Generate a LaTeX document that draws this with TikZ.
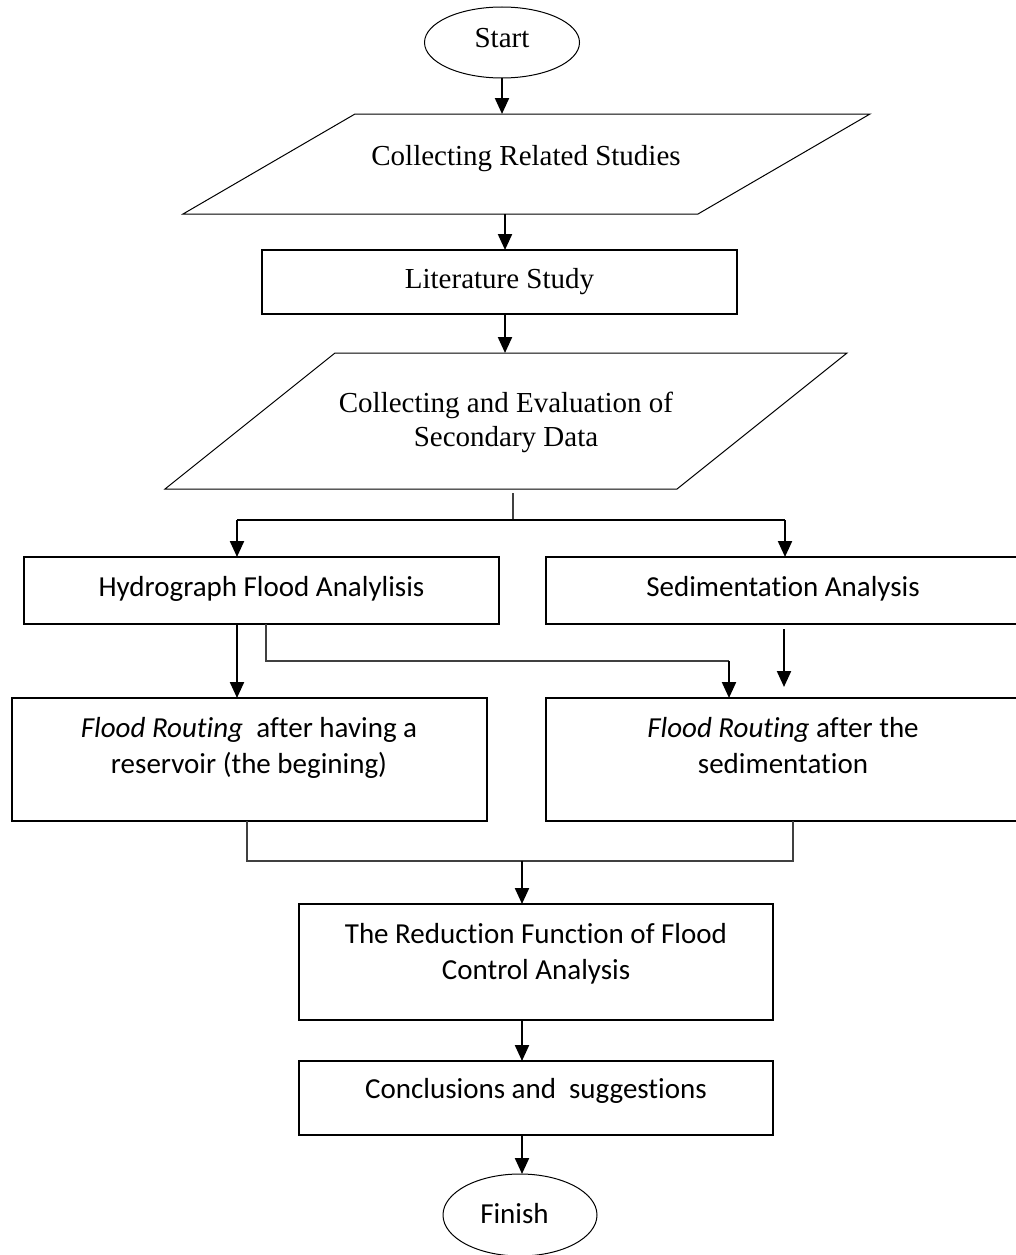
\documentclass[tikz,border=0pt]{standalone}
\usepackage{fontspec}
\usetikzlibrary{arrows.meta,shapes.geometric}
\newfontfamily\timesf{Liberation Serif}
\newfontfamily\calf{Carlito}[Ligatures=CommonOff]
\begin{document}
\begin{tikzpicture}[x=1pt,y=-1pt,
  procbox/.style={draw=black, line width=1.1pt, inner sep=0pt, outer sep=0pt, anchor=north west},
  term/.style={ellipse, draw=black, line width=1.0pt, inner sep=0pt, outer sep=0pt},
  shapeline/.style={draw=black, line width=1.0pt, line join=miter},
  serif/.style={font=\timesf\fontsize{29}{34}\selectfont, anchor=base, inner sep=0pt},
  sans/.style={font=\calf\fontsize{29}{36}\selectfont, anchor=base, inner sep=0pt},
  arr/.style={draw=black, line width=2.2pt, -{Triangle[width=14pt,length=16pt]}},
  link/.style={draw=black!75, line width=1.1pt},
  hline/.style={draw=black, line width=1.3pt}]
\useasboundingbox (0,0) rectangle (1016,1255);

% Start
\node[term, minimum width=155pt, minimum height=71pt] (start) at (502,42.5) {};
\node[serif] (startT) at (502,48) {Start};

% Collecting Related Studies
\coordinate (p1bl) at (183,214);
\coordinate (p1tl) at (355,114);
\coordinate (p1tr) at (870,114);
\coordinate (p1br) at (698,214);
\draw[shapeline] (p1bl) -- (p1tl) -- (p1tr) -- (p1br) -- cycle;
\node[serif] (p1T) at (526,165) {Collecting Related Studies};
\coordinate (p1n) at (502,114);
\coordinate (p1s) at (505,214);

% Literature Study
\node[procbox, minimum width=475pt, minimum height=64pt] (lit) at (262,250) {};
\node[serif] (litT) at (499.5,288) {Literature Study};

% Collecting and Evaluation
\coordinate (p2bl) at (165,489);
\coordinate (p2tl) at (335,353);
\coordinate (p2tr) at (847,353);
\coordinate (p2br) at (677,489);
\draw[shapeline] (p2bl) -- (p2tl) -- (p2tr) -- (p2br) -- cycle;
\node[serif, text width=480pt, align=flush center] (p2T) at (506,412) {Collecting and Evaluation of\\Secondary Data};
\coordinate (p2n) at (505,353);
\coordinate (p2s) at (513,493);
\coordinate (split) at (513,520);
\coordinate (splitL) at (237,520);
\coordinate (splitR) at (785,520);

% Analysis boxes
\node[procbox, minimum width=475pt, minimum height=67pt] (hydro) at (24,557) {};
\node[sans] (hydroT) at (261.5,596) {Hydrograph Flood Analylisis};
\node[procbox, minimum width=474pt, minimum height=67pt] (sed) at (546,557) {};
\node[sans] (sedT) at (783,596) {Sedimentation Analysis};

% Flood routing boxes
\node[procbox, minimum width=475pt, minimum height=123pt] (fr1) at (12,698) {};
\node[sans, text width=460pt, align=flush center] (fr1T) at (249,737) {\itshape Flood Routing\upshape~ after having a\\reservoir (the begining)};
\node[procbox, minimum width=474pt, minimum height=123pt] (fr2) at (546,698) {};
\node[sans, text width=460pt, align=flush center] (fr2T) at (783,737) {\itshape Flood Routing\upshape{} after the\\sedimentation};

% Reduction
\node[procbox, minimum width=474pt, minimum height=116pt] (red) at (299,904) {};
\node[sans, text width=470pt, align=flush center] (redT) at (536,943) {The Reduction Function of Flood\\Control Analysis};

% Conclusions
\node[procbox, minimum width=474pt, minimum height=74pt] (conc) at (299,1061) {};
\node[sans] (concT) at (536,1098) {Conclusions and~ suggestions};

% Finish
\node[term, minimum width=154pt, minimum height=82pt] (finish) at (520,1215) {};
\node[sans] (finishT) at (514.5,1223) {Finish};

% Connectors
\draw[arr] (start.south) -- (p1n);
\draw[arr] (p1s) -- (p1s |- lit.north);
\draw[arr] (p2n |- lit.south) -- (p2n);
\draw[link] (p2s) -- (split);
\draw[hline] (splitL) -- (splitR);
\draw[arr] (splitL) -- (splitL |- hydro.north);
\draw[arr] (splitR) -- (splitR |- sed.north);

\coordinate (h1) at ([xshift=-24.5pt]hydro.south);
\draw[arr] (h1) -- (h1 |- fr1.north);
\coordinate (h2) at ([xshift=4.5pt]hydro.south);
\coordinate (bendR) at (729,661);
\draw[link] (h2) |- (bendR);
\draw[arr] (bendR) -- (bendR |- fr2.north);
\coordinate (s1) at ([xshift=1pt,yshift=-5pt]sed.south);
\coordinate (s2) at ([xshift=1pt,yshift=11pt]fr2.north);
\draw[arr] (s1) -- (s2);

\coordinate (f1) at ([xshift=-2.5pt]fr1.south);
\coordinate (f2) at ([xshift=10pt]fr2.south);
\coordinate (joinL) at (247,861);
\coordinate (joinR) at (793,861);
\draw[link] (f1) -- (joinL) -- (joinR) -- (f2);
\coordinate (join) at (522,861);
\draw[arr] (join) -- (join |- red.north);

\coordinate (r1) at ([xshift=-14pt]red.south);
\draw[arr] (r1) -- (r1 |- conc.north);
\coordinate (c1) at ([xshift=-14pt]conc.south);
\draw[arr] (c1) -- (c1 |- finish.north);
\end{tikzpicture}
\end{document}
